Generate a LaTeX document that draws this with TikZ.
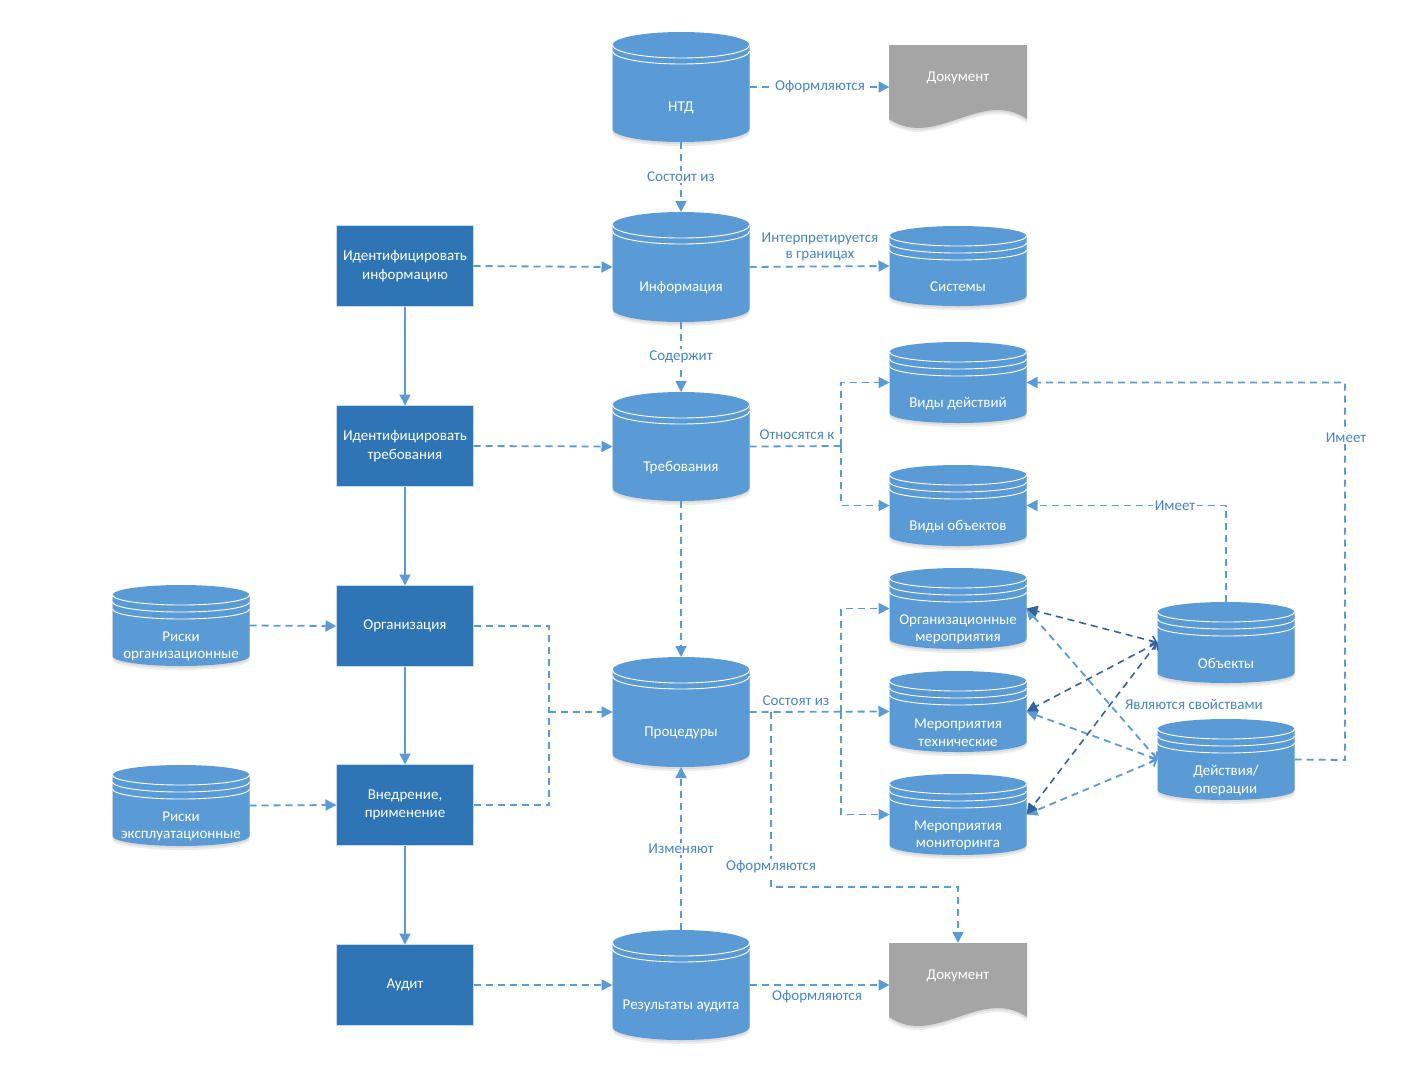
\documentclass[tikz,border=0pt]{standalone}
\usepackage{fontspec}
\setmainfont{Carlito}
\usetikzlibrary{arrows.meta,calc}
\definecolor{cylblue}{RGB}{91,155,213}
\definecolor{boxblue}{RGB}{46,117,182}
\definecolor{docgray}{RGB}{165,165,165}
\definecolor{lineblue}{RGB}{91,155,213}
\definecolor{darkline}{RGB}{52,100,155}
\definecolor{labelblue}{RGB}{70,132,196}
\definecolor{rimline}{RGB}{200,220,240}

\tikzset{
  anchorbox/.style={inner sep=0pt, outer sep=0pt, minimum width=137pt},
  shapetext/.style={text=white, font=\fontsize{15}{17.5}\selectfont, align=center, inner sep=0pt},
  procbox/.style={fill=boxblue, draw=rimline, line width=1.2pt, minimum width=137pt, minimum height=81pt,
    text=white, align=center, font=\fontsize{15}{18.5}\selectfont, inner sep=2pt, outer sep=0pt},
  dl/.style={draw=lineblue, line width=1.8pt, dash pattern=on 7pt off 5pt},
  dk/.style={draw=darkline, line width=1.6pt, dash pattern=on 7pt off 5pt},
  sl/.style={draw=lineblue, line width=1.8pt},
  tip/.style={-{Triangle[length=11pt,width=11pt]}},
  bothtip/.style={{Straight Barb[length=5pt,width=10pt]}-{Triangle[length=11pt,width=11pt]}},
  lbl/.style={text=labelblue, font=\fontsize{15}{16}\selectfont, align=center, inner sep=1.5pt},
  lblw/.style={lbl, fill=white},
  softshadow/.style={fill=black, opacity=0.07},
}

% #1 name, #2 cx, #3 ytop, #4 ybot, #5 ry, #6 rim offsets, #7 text
\newcommand\dbcyl[7]{%
  \node[anchorbox, minimum height={#4-#3}] (#1) at (#2,{(#3+#4)/2}) {};
  \foreach \s in {2,4}{
  \fill[softshadow] ({#2-68.5},{#3+#5+\s}) -- ({#2-68.5},{#4-#5+\s})
     arc[start angle=180,end angle=360,x radius=68.5pt,y radius=#5pt]
     -- ({#2+68.5},{#3+#5+\s})
     arc[start angle=0,end angle=180,x radius=68.5pt,y radius=#5pt] -- cycle;
  }
  \fill[cylblue] ({#2-68.5},{#3+#5}) -- ({#2-68.5},{#4-#5})
     arc[start angle=180,end angle=360,x radius=68.5pt,y radius=#5pt]
     -- ({#2+68.5},{#3+#5})
     arc[start angle=0,end angle=180,x radius=68.5pt,y radius=#5pt] -- cycle;
  \foreach \o in {#6}{
    \draw[white, line width=0.9pt] ({#2-68.5},{#3+#5+\o})
      arc[start angle=180,end angle=360,x radius=68.5pt,y radius=#5pt];
  }
  \node[shapetext] (#1-t) at (#2,{(#3+#4)/2+21}) {#7};
}

% #1 name, #2 x1, #3 ytop, #4 text
\newcommand\docsh[4]{%
  \node[anchorbox, minimum height=84pt] (#1) at ({#2+69},{#3+42}) {};
  \foreach \s in {2,4}{
  \fill[softshadow] (#2,{#3+\s}) -- ({#2+138},{#3+\s}) -- ({#2+138},{#3+74+\s})
     .. controls ({#2+92},{#3+43+\s}) and ({#2+46},{#3+105+\s}) .. (#2,{#3+74+\s}) -- cycle;
  }
  \fill[docgray] (#2,#3) -- ({#2+138},#3) -- ({#2+138},{#3+74})
     .. controls ({#2+92},{#3+43}) and ({#2+46},{#3+105}) .. (#2,{#3+74}) -- cycle;
  \node[shapetext] (#1-t) at ({#2+69},{#3+33}) {#4};
}

\begin{document}
\begin{tikzpicture}[x=1pt,y=-1pt]
\useasboundingbox (0,0) rectangle (1417,1080);

% middle column
\dbcyl{ntd}{681}{32}{142}{13}{0,6}{НТД}
\dbcyl{info}{681}{212}{322}{13}{0,6}{Информация}
\dbcyl{treb}{681}{392}{501}{13}{0,6}{Требования}
\dbcyl{proc}{681}{657}{767}{13}{0,6}{Процедуры}
\dbcyl{res}{681}{930}{1040}{13}{0,6}{Результаты аудита}

% right column
\docsh{doc1}{889}{45}{Документ}
\dbcyl{sys}{958}{226}{306}{10}{0,7,14}{Системы}
\dbcyl{vdej}{958}{342}{423}{10}{0,7,14}{Виды действий}
\dbcyl{vobj}{958}{465}{546}{10}{0,7,14}{Виды объектов}
\dbcyl{morg}{958}{568}{649}{10}{0,7,14}{Организационные\\мероприятия}
\dbcyl{mteh}{958}{671}{752}{10}{0,7,14}{Мероприятия\\технические}
\dbcyl{mmon}{958}{774}{855}{10}{0,7,14}{Мероприятия\\мониторинга}
\docsh{doc2}{889}{943}{Документ}

% far right
\dbcyl{objs}{1226}{602}{683}{10}{0,7,14}{Объекты}
\dbcyl{deist}{1226}{719}{800}{10}{0,7,14}{Действия/\\операции}

% far left
\dbcyl{risk1}{181}{585}{666}{10}{0,7,14}{Риски\\организационные}
\dbcyl{risk2}{181}{765}{846}{10}{0,7,14}{Риски\\эксплуатационные}

% left process boxes
\node[procbox] (idi) at (405,266) {Идентифицировать\\информацию};
\node[procbox] (idt) at (405,446) {Идентифицировать\\требования};
\node[procbox] (orgz) at (405,626) {Организация};
\node[procbox] (vned) at (405,805) {Внедрение,\\применение};
\node[procbox] (aud) at (405,985) {Аудит};

% solid flow on the left
\draw[sl,tip] (idi) -- (idt);
\draw[sl,tip] (idt) -- (orgz);
\draw[sl,tip] (orgz) -- (vned);
\draw[sl,tip] (vned) -- (aud);

% dashed connectors
\draw[dl,tip] (ntd.east) -- (doc1.west);
\draw[dl,tip] (ntd.south) -- (info.north);
\draw[dl,tip] (info.east) -- (sys.west);
\draw[dl,tip] (info.south) -- (treb.north);
\draw[dl,tip] (treb.south) -- (proc.north);
\draw[dl,tip] (idi.east) -- (info.west);
\draw[dl,tip] (idt.east) -- (treb.west);
\draw[dl,tip] (risk1.east) -- (orgz.west);
\draw[dl,tip] (risk2.east) -- (vned.west);
\draw[dl,tip] (aud.east) -- (res.west);
\draw[dl,tip] (res.north) -- (proc.south);
\draw[dl,tip] (res.east) -- (doc2.west);

\coordinate (j1) at (841,446);
\draw[dl] (treb.east) -- (j1);
\draw[dl,tip] (j1) |- (vdej.west);
\draw[dl,tip] (j1) |- (vobj.west);

\coordinate (j4) at (549,712);
\draw[dl] (orgz.east) -| (j4);
\draw[dl] (vned.east) -| (j4);
\draw[dl,tip] (j4) -- (proc.west);

\coordinate (j2) at (841,712);
\draw[dl,tip] (proc.east) -- (mteh.west);
\draw[dl,tip] (j2) |- (morg.west);
\draw[dl,tip] (j2) |- (mmon.west);

\coordinate (j3) at (771,712);
\coordinate (j5) at (771,887);
\draw[dl,tip] (j3) -- (j5) -| (doc2.north);

\coordinate (j6) at (1345,760);
\draw[dl,tip] (deist.east) -- (j6) |- (vdej.east);
\draw[dl,tip] (objs.north) |- (vobj.east);

% property links
\draw[dl,bothtip] (deist.west) -- (morg.east);
\draw[dl,bothtip] (deist.west) -- (mteh.east);
\draw[dl,bothtip] (deist.west) -- (mmon.east);
\draw[dk,bothtip] (objs.west) -- (morg.east);
\draw[dk,bothtip] (objs.west) -- (mteh.east);
\draw[dk,bothtip] (objs.west) -- (mmon.east);

% labels
\node[lblw] (l1) at (820,87) {Оформляются};
\node[lblw] (l2) at (681,177) {Состоит из};
\node[lbl] (l3) at (820,247) {Интерпретируется\\в границах};
\node[lblw] (l4) at (681,357) {Содержит};
\node[lbl] (l5) at (797,435) {Относятся к};
\node[lbl] (l6) at (796,701) {Состоят из};
\node[lblw] (l7) at (771,867) {Оформляются};
\node[lblw] (l8) at (681,849) {Изменяют};
\node[lbl] (l9) at (817,997) {Оформляются};
\node[lblw] (l10) at (1175,506) {Имеет};
\node[lblw] (l11) at (1346,438) {Имеет};
\node[lbl] (l12) at (1194,704) {Являются свойствами};
\end{tikzpicture}
\end{document}
